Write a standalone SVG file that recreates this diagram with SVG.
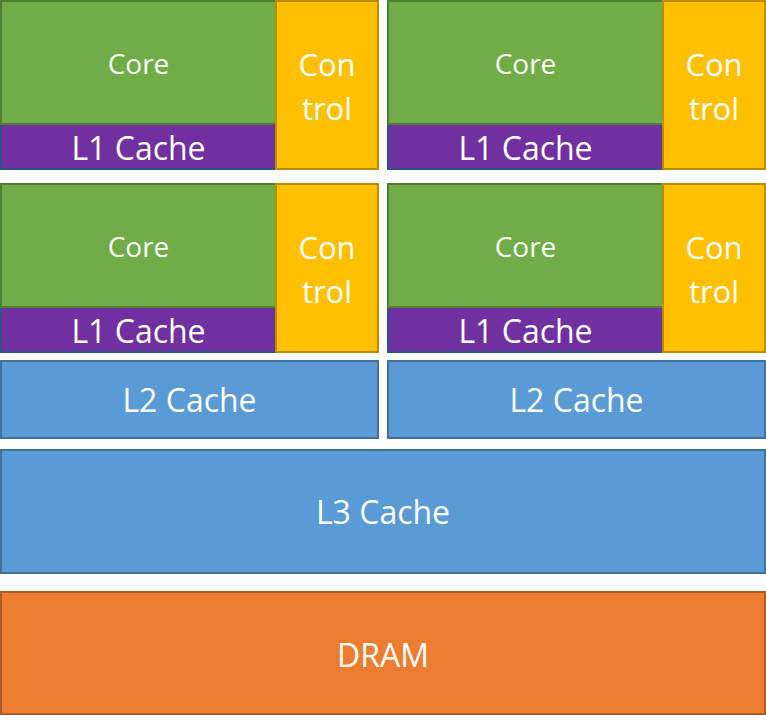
<svg xmlns="http://www.w3.org/2000/svg" width="766" height="720" viewBox="0 0 766 720">
<style>
rect{stroke-width:2}
.core{fill:#70AD47;stroke:#507E32}
.l1{fill:#7030A0;stroke:#2F528F}
.ctl{fill:#FFC000;stroke:#BC8C00}
.blue{fill:#5B9BD5;stroke:#41719C}
.dram{fill:#ED7D31;stroke:#AE5A21}
text{font-family:"Open Sans","Liberation Sans",sans-serif;fill:#FFFFFF;text-anchor:middle}
.s28{font-size:28px}
.s32{font-size:32px}
.s31{font-size:31px}
</style>
<rect x="0" y="0" width="766" height="720" fill="#FFFFFF" stroke="none"/>
<g id="l1-a"><rect class="l1" x="1" y="124" width="275" height="45"/><text class="s32" x="138.5" y="160">L1 Cache</text></g>
<g id="core-a"><rect class="core" x="1" y="1" width="275" height="123"/><text class="s28" x="138.5" y="73.5">Core</text></g>
<g id="ctl-a"><rect class="ctl" x="276" y="1" width="102" height="168"/><text class="s31" x="327" y="75.5">Con</text><text class="s31" x="327" y="120">trol</text></g>
<g id="l1-b"><rect class="l1" x="388" y="124" width="275" height="45"/><text class="s32" x="525.5" y="160">L1 Cache</text></g>
<g id="core-b"><rect class="core" x="388" y="1" width="275" height="123"/><text class="s28" x="525.5" y="73.5">Core</text></g>
<g id="ctl-b"><rect class="ctl" x="663" y="1" width="102" height="168"/><text class="s31" x="714" y="75.5">Con</text><text class="s31" x="714" y="120">trol</text></g>
<g id="l1-c"><rect class="l1" x="1" y="307" width="275" height="45"/><text class="s32" x="138.5" y="343">L1 Cache</text></g>
<g id="core-c"><rect class="core" x="1" y="184" width="275" height="123"/><text class="s28" x="138.5" y="256.5">Core</text></g>
<g id="ctl-c"><rect class="ctl" x="276" y="184" width="102" height="168"/><text class="s31" x="327" y="258.5">Con</text><text class="s31" x="327" y="303">trol</text></g>
<g id="l1-d"><rect class="l1" x="388" y="307" width="275" height="45"/><text class="s32" x="525.5" y="343">L1 Cache</text></g>
<g id="core-d"><rect class="core" x="388" y="184" width="275" height="123"/><text class="s28" x="525.5" y="256.5">Core</text></g>
<g id="ctl-d"><rect class="ctl" x="663" y="184" width="102" height="168"/><text class="s31" x="714" y="258.5">Con</text><text class="s31" x="714" y="303">trol</text></g>
<g id="l2-a"><rect class="blue" x="1" y="361" width="377" height="77"/><text class="s32" x="189.5" y="412">L2 Cache</text></g>
<g id="l2-b"><rect class="blue" x="388" y="361" width="377" height="77"/><text class="s32" x="576.5" y="412">L2 Cache</text></g>
<g id="l3"><rect class="blue" x="1" y="450" width="764" height="123"/><text class="s32" x="383" y="524">L3 Cache</text></g>
<g id="dram"><rect class="dram" x="1" y="592" width="764" height="122"/><text class="s32" x="383" y="667">DRAM</text></g>
<g id="connectors"/>
</svg>
